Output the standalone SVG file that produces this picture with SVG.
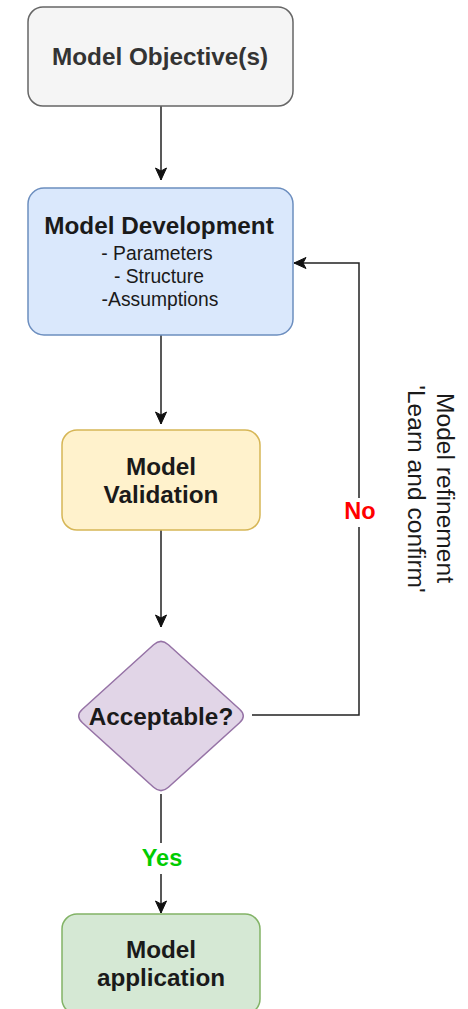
<svg xmlns="http://www.w3.org/2000/svg" width="468" height="1009" viewBox="0 0 468 1009">
<style>
.node{stroke-width:1.5}
.b{font-family:"Liberation Sans",Arial,sans-serif;font-weight:bold;font-size:24.3px;text-anchor:middle;fill:#1a1a1a}
.r{font-family:"Liberation Sans",Arial,sans-serif;font-size:19.3px;text-anchor:middle;fill:#1a1a1a}
.v{font-family:"Liberation Sans",Arial,sans-serif;font-size:24.6px;text-anchor:middle;fill:#1a1a1a}
.edge{fill:none;stroke:#222;stroke-width:1.5}
</style>
<defs>
<marker id="arr" markerUnits="userSpaceOnUse" markerWidth="14" markerHeight="14" viewBox="0 0 14 14" refX="13" refY="7" orient="auto">
<path d="M1,1.5 L13,7 L1,12.5 L4,7 Z" fill="#111" stroke="#111" stroke-width="1"/>
</marker>
</defs>
<rect width="468" height="1009" fill="#ffffff"/>
<g id="connectors">
<path class="edge" d="M161,106 L161,180" marker-end="url(#arr)"/>
<path class="edge" d="M161,335 L161,424" marker-end="url(#arr)"/>
<path class="edge" d="M161,530 L161,627" marker-end="url(#arr)"/>
<path class="edge" d="M161,794 L161,843 M161,874 L161,913" marker-end="url(#arr)"/>
<path class="edge" d="M252,715 L359,715 L359,527 M359,498 L359,263 L294,263" marker-end="url(#arr)"/>
<text x="360" y="519" font-family="Liberation Sans,Arial,sans-serif" font-weight="bold" font-size="23.5" text-anchor="middle" fill="#ff0000">No</text>
<text x="162" y="866" font-family="Liberation Sans,Arial,sans-serif" font-weight="bold" font-size="23.5" text-anchor="middle" fill="#00cc00">Yes</text>
</g>
<g id="objective">
<rect class="node" x="28" y="7" width="265" height="99" rx="15" fill="#f5f5f5" stroke="#666666"/>
<text class="b" x="160" y="65" style="fill:#333333">Model Objective(s)</text>
</g>
<g id="development">
<rect class="node" x="28" y="188" width="265" height="147" rx="16" fill="#dae8fc" stroke="#6c8ebf"/>
<text class="b" x="159" y="234">Model Development</text>
<text class="r" x="157" y="260">- Parameters</text>
<text class="r" x="159" y="283">- Structure</text>
<text class="r" x="160" y="306">-Assumptions</text>
</g>
<g id="validation">
<rect class="node" x="62" y="430" width="198" height="100" rx="15" fill="#fff2cc" stroke="#d6b656"/>
<text class="b" x="161" y="475">Model</text>
<text class="b" x="161" y="503">Validation</text>
</g>
<g id="acceptable">
<path class="node" d="M168.4,644.7 L239.6,709.3 Q247,716 239.6,722.7 L168.4,787.3 Q161,794 153.6,787.3 L82.4,722.7 Q75,716 82.4,709.3 L153.6,644.7 Q161,638 168.4,644.7 Z" fill="#e1d5e7" stroke="#9673a6"/>
<text class="b" x="161" y="725">Acceptable?</text>
</g>
<g id="application">
<rect class="node" x="62" y="914" width="198" height="100" rx="15" fill="#d5e8d4" stroke="#82b366"/>
<text class="b" x="161" y="958">Model</text>
<text class="b" x="161" y="986">application</text>
</g>
<g id="refinement-label">
<text class="v" transform="translate(437,488) rotate(90)">Model refinement</text>
<text class="v" transform="translate(408,489) rotate(90)">'Learn and confirm'</text>
</g>
</svg>
